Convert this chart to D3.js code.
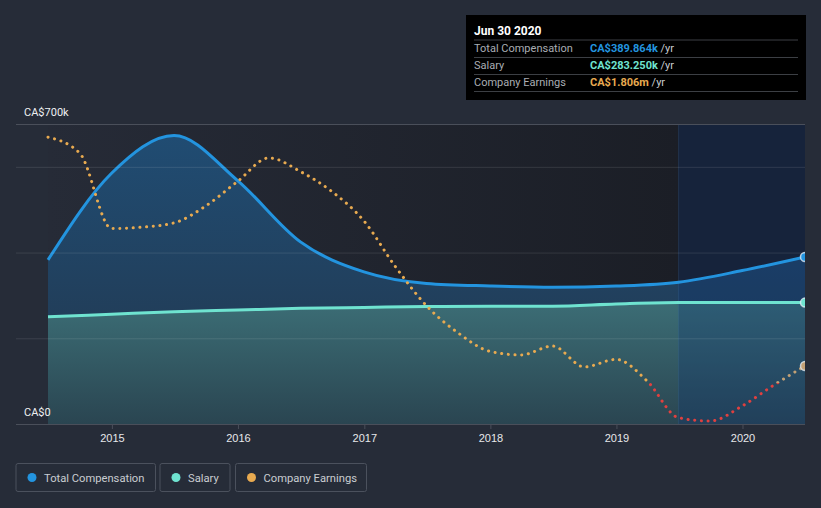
<!DOCTYPE html>
<html><head><meta charset="utf-8">
<script src="https://cdn.jsdelivr.net/npm/d3@7"></script>
<style>
html,body{margin:0;padding:0;background:#262c38;}
svg{display:block;font-family:Roboto,"Open Sans",sans-serif;}
</style></head>
<body>
<svg id="chart" width="821" height="508"></svg>
<script>
// ---- data ----
const compDates = ["2014-06-30","2014-12-31","2015-06-30","2015-12-31","2016-06-30","2016-12-31","2017-06-30","2017-12-31","2018-06-30","2018-12-31","2019-06-30","2019-12-31","2020-06-30"];
const totalComp = [383, 585, 673, 568, 425, 355, 328, 322, 319, 322, 331, 358, 389.864]; // CA$k
const salary    = [250, 256, 262, 266, 270, 272, 274, 275, 275, 280, 283.25, 283.25, 283.25]; // CA$k
const earnDates = ["2014-06-30","2014-09-30","2014-12-31","2015-03-31","2015-06-30","2015-09-30","2015-12-31","2016-03-31","2016-06-30","2016-09-30","2016-12-31","2017-03-31","2017-06-30","2017-09-30","2017-12-31","2018-03-31","2018-06-30","2018-09-30","2018-12-31","2019-03-31","2019-06-30","2019-09-30","2019-12-31","2020-03-31","2020-06-30"];
const earnings  = [26.1, 24.4, 16.4, 16.55, 17.0, 18.8, 21.4, 23.9, 22.45, 20.3, 17.2, 12.4, 8.2, 5.3, 3.35, 2.97, 3.92, 1.7, 2.5, 0.2, -3.7, -4.04, -2.45, -0.25, 1.806]; // CA$m
const yTickLabels = ["CA$0", "CA$700k"];
const gridValues = [200, 400, 600];
const legendItems = ["Total Compensation", "Salary", "Company Earnings"];
const tooltipRows = [
  {label:"Total Compensation", value:"CA$389.864k"},
  {label:"Salary", value:"CA$283.250k"},
  {label:"Company Earnings", value:"CA$1.806m"}
];
const tooltipTitle = "Jun 30 2020";
const highlightStart = "2019-06-30";

// ---- styles ----
const C = {blue:"#2394df", teal:"#6fe3d0", orange:"#e8aa50", red:"#e0403f", tan:"#c3a175"};
const parse = d3.timeParse("%Y-%m-%d");
const svg = d3.select("#chart");
const L = 16, X0 = 48, X1 = 805, T = 124, B = 424;

const x = d3.scaleTime().domain([parse(compDates[0]), parse(compDates[compDates.length-1])]).range([X0, X1]);
const y = d3.scaleLinear().domain([0, 700]).range([B, T]);
const yE = d3.scaleLinear().domain([-4.36, 27.5]).range([B, T]);

const defs = svg.append("defs");
const bgG = defs.append("linearGradient").attr("id","bgG").attr("gradientUnits","userSpaceOnUse")
  .attr("x1",X0).attr("x2",x(parse(highlightStart))).attr("y1",0).attr("y2",0);
bgG.append("stop").attr("offset",0).attr("stop-color","#262b37");
bgG.append("stop").attr("offset",1).attr("stop-color","#1b1e26");
const blueG = defs.append("linearGradient").attr("id","blueG").attr("gradientUnits","userSpaceOnUse")
  .attr("x1",0).attr("x2",0).attr("y1",T).attr("y2",B);
blueG.append("stop").attr("offset",0).attr("stop-color","#204d74");
blueG.append("stop").attr("offset",1).attr("stop-color","#22364c");
const tealG = defs.append("linearGradient").attr("id","tealG").attr("gradientUnits","userSpaceOnUse")
  .attr("x1",0).attr("x2",0).attr("y1",300).attr("y2",B);
tealG.append("stop").attr("offset",0).attr("stop-color","#3c6e76");
tealG.append("stop").attr("offset",1).attr("stop-color","#2a4551");

const y0 = yE(0);
const xh = x(parse(highlightStart));
defs.append("clipPath").attr("id","plotClip").append("rect").attr("x",L).attr("y",0).attr("width",X1-L).attr("height",B+2);
defs.append("clipPath").attr("id","posA").append("rect").attr("x",0).attr("y",0).attr("width",xh).attr("height",y0);
defs.append("clipPath").attr("id","posB").append("rect").attr("x",xh).attr("y",0).attr("width",X1-xh+10).attr("height",y0);
defs.append("clipPath").attr("id","neg").append("rect").attr("x",0).attr("y",y0).attr("width",X1+10).attr("height",B-y0+10);

// background
svg.append("rect").attr("x",X0).attr("y",T).attr("width",X1-X0).attr("height",B-T).attr("fill","url(#bgG)");

const comp = compDates.map((d,i)=>({d:parse(d), v:totalComp[i], s:salary[i]}));
const earn = earnDates.map((d,i)=>({d:parse(d), v:earnings[i]}));

const plot = svg.append("g").attr("clip-path","url(#plotClip)");
plot.append("path").datum(comp).attr("fill","url(#blueG)")
  .attr("d", d3.area().x(d=>x(d.d)).y0(B).y1(d=>y(d.v)).curve(d3.curveMonotoneX));
plot.append("path").datum(comp).attr("fill","url(#tealG)")
  .attr("d", d3.area().x(d=>x(d.d)).y0(B).y1(d=>y(d.s)).curve(d3.curveMonotoneX));

// highlight overlay
plot.append("rect").attr("x",xh).attr("y",T).attr("width",X1-xh).attr("height",B-T).attr("fill","rgba(10,50,115,0.28)");
plot.append("line").attr("x1",xh).attr("x2",xh).attr("y1",T).attr("y2",B).attr("stroke","rgba(60,110,170,0.25)");

// grid
svg.append("g").selectAll("line").data(gridValues).join("line")
  .attr("x1",L).attr("x2",X1).attr("y1",d=>y(d)+0.5).attr("y2",d=>y(d)+0.5)
  .attr("stroke","rgba(255,255,255,0.1)");
svg.append("line").attr("x1",L).attr("x2",X1).attr("y1",T+0.5).attr("y2",T+0.5).attr("stroke","#4a4f5a");

// lines
plot.append("path").datum(comp).attr("fill","none").attr("stroke",C.blue).attr("stroke-width",3)
  .attr("d", d3.line().x(d=>x(d.d)).y(d=>y(d.v)).curve(d3.curveMonotoneX));
plot.append("path").datum(comp).attr("fill","none").attr("stroke",C.teal).attr("stroke-width",3)
  .attr("d", d3.line().x(d=>x(d.d)).y(d=>y(d.s)).curve(d3.curveMonotoneX));
const eLine = d3.line().x(d=>x(d.d)).y(d=>yE(d.v)).curve(d3.curveMonotoneX);
[["posA",C.orange],["posB",C.tan],["neg",C.red]].forEach(([clip,col])=>{
  plot.append("g").attr("clip-path",`url(#${clip})`).append("path").datum(earn)
    .attr("fill","none").attr("stroke",col).attr("stroke-width",3)
    .attr("stroke-linecap","round").attr("stroke-dasharray","0.1 6.6").attr("d",eLine);
});

// end markers
const last = comp[comp.length-1], lastE = earn[earn.length-1];
[[y(last.v),C.blue],[y(last.s),C.teal],[yE(lastE.v),C.tan]].forEach(([cy,col])=>{
  plot.append("circle").attr("cx",x(last.d)).attr("cy",cy).attr("r",4.5)
    .attr("fill",col).attr("stroke","rgba(230,240,250,0.75)").attr("stroke-width",1.5);
});

// x axis
const xAxis = svg.append("g").attr("transform",`translate(0,${B})`)
  .call(d3.axisBottom(x).ticks(d3.timeYear.every(1)).tickFormat(d3.timeFormat("%Y")).tickSize(5).tickSizeOuter(0));
xAxis.select(".domain").remove();
xAxis.insert("line",":first-child").attr("x1",L).attr("x2",X1).attr("y1",0.5).attr("y2",0.5).attr("stroke","#4a4f5a");
xAxis.selectAll(".tick line").attr("stroke","#4a4f5a");
xAxis.selectAll(".tick text").attr("fill","#e6e8eb").attr("font-size",11).attr("dy","0.9em");

// y labels
svg.append("text").attr("x",24).attr("y",B-8).attr("fill","#eef0f2").attr("font-size",11).text(yTickLabels[0]);
svg.append("text").attr("x",24).attr("y",T-8).attr("fill","#eef0f2").attr("font-size",11).text(yTickLabels[1]);

// legend
const legendX = [16, 160, 235.5], legendW = [139.5, 70, 131];
const legCols = [C.blue, C.teal, C.orange];
legendItems.forEach((t,i)=>{
  const g = svg.append("g").attr("transform",`translate(${legendX[i]},463.5)`);
  g.append("rect").attr("width",legendW[i]).attr("height",28).attr("rx",2)
    .attr("fill","none").attr("stroke","#4b515d");
  g.append("circle").attr("cx",16).attr("cy",14).attr("r",4.5).attr("fill",legCols[i]);
  g.append("text").attr("x",28).attr("y",18).attr("fill","#c9ccd1").attr("font-size",11.2).text(t);
});

// tooltip
const tt = svg.append("g");
tt.append("rect").attr("x",466).attr("y",15).attr("width",340).attr("height",85).attr("fill","#000");
tt.append("text").attr("x",474).attr("y",35).attr("fill","#fff").attr("font-size",12).attr("font-weight","bold").text(tooltipTitle);
const ttCols = [C.blue, C.teal, C.orange];
[40,57.5,74.5,91.5].forEach(yy=>{
  tt.append("line").attr("x1",474).attr("x2",798).attr("y1",yy).attr("y2",yy).attr("stroke","#3c3f44");
});
tooltipRows.forEach((r,i)=>{
  const yy = 52 + i*17;
  tt.append("text").attr("x",474).attr("y",yy).attr("fill","#a9adb3").attr("font-size",11).text(r.label);
  const t = tt.append("text").attr("x",590).attr("y",yy).attr("font-size",11);
  t.append("tspan").attr("fill",ttCols[i]).attr("font-weight","bold").text(r.value);
  t.append("tspan").attr("fill","#c9ccd1").text(" /yr");
});
</script>
</body></html>
